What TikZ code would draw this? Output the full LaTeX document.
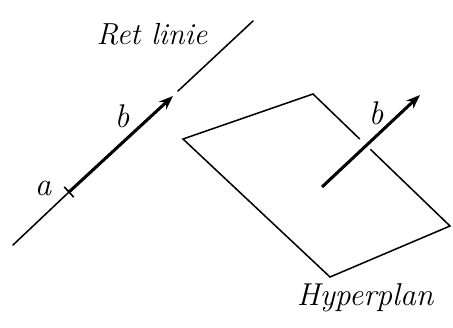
\documentclass[tikz,border=0pt]{standalone}
\usetikzlibrary{arrows.meta,calc}
\begin{document}
\begin{tikzpicture}[
  x=0.03cm, y=-0.03cm,
  thinline/.style={line width=1.3pt, line cap=round},
  vecline/.style={line width=2.6pt, -{Stealth[length=12pt, width=9pt]}},
  hand/.style={font=\fontsize{#1}{#1}\selectfont\itshape},
  hand/.default=28
]
\useasboundingbox (0,0) rectangle (453,327);

% === Coordinates (line) ===
\coordinate (L0) at (13,245);   % lower end
\coordinate (L1) at (253,21);   % upper end
\coordinate (A) at (69,192);    % point a
\coordinate (B) at (173,96);    % end of vector b
\coordinate (G) at (178,91);    % after the gap

% === Coordinates (hyperplane) ===
\coordinate (P1) at (183,139);  % left
\coordinate (P2) at (313,94);   % top
\coordinate (P3) at (450,226);  % right
\coordinate (P4) at (330,277);  % bottom
\coordinate (V0) at (322,187);  % foot of vector b
\coordinate (V1) at (420,95);   % tip of vector b

% === Line with vector ===
\draw[thinline] (L0) -- (A);
\draw[thinline] (G) -- (L1);
\draw[vecline] (A) -- (B);
\draw[line width=1.4pt] ($(A)!6pt!90:(B)$) -- ($(A)!-6pt!90:(B)$);

% === Hyperplane (edge broken where b passes) ===
\draw[thinline] ($(P2)!0.42!(P3)$) -- (P3) -- (P4) -- (P1) -- (P2) -- ($(P2)!0.34!(P3)$);
\draw[vecline] (V0) -- (V1);

% === Labels ===
\node[hand=26] (retlinie) at (152,34) {Ret linie};
\node[hand] (la) at (43,188) {a};
\node[hand] (lb) at (122,116) {b};
\node[hand] (lb2) at (376,113) {b};
\node[hand=27] (hyper) at (365,298) {Hyperplan};

\end{tikzpicture}
\end{document}
